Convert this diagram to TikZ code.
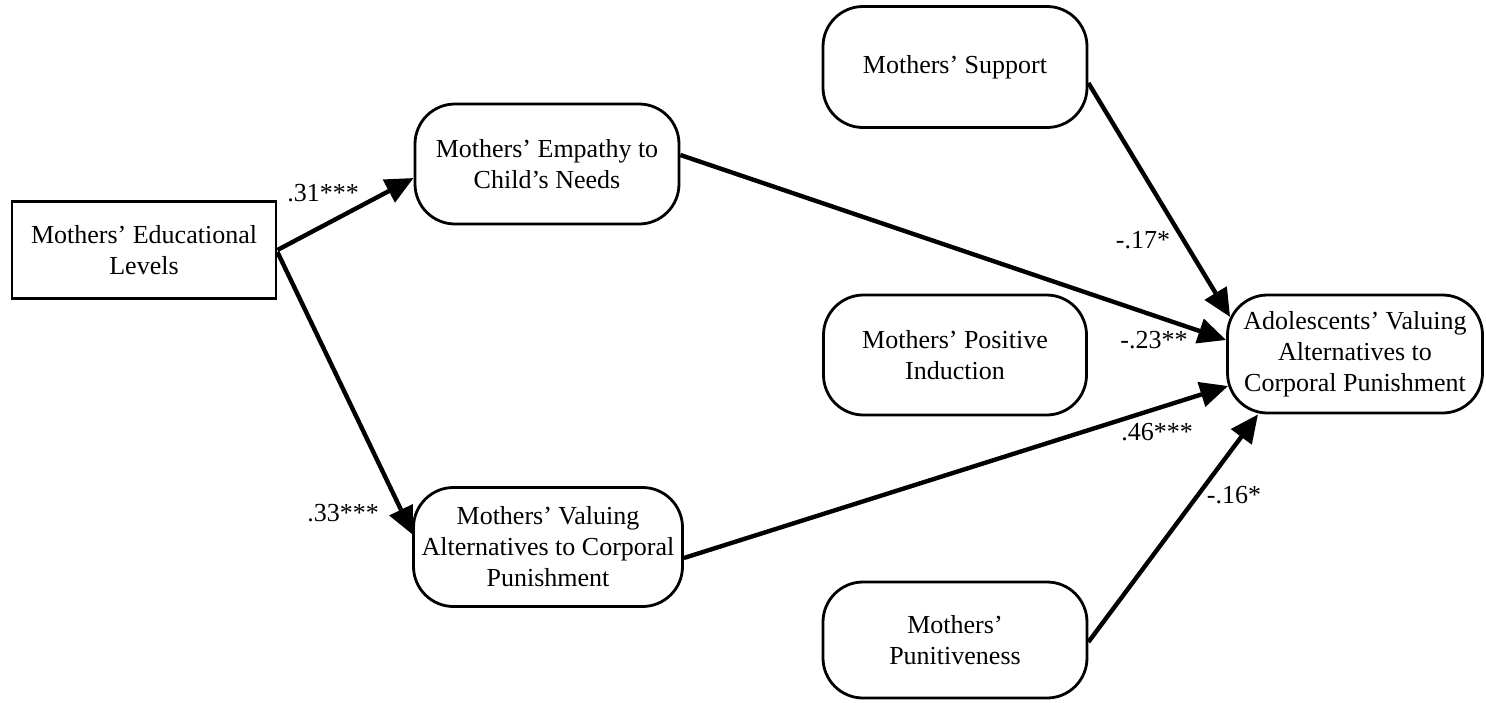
\documentclass[tikz,border=0pt]{standalone}
\usepackage{fontspec}
\setmainfont{Liberation Serif}
\usetikzlibrary{arrows.meta}
\begin{document}
\begin{tikzpicture}[x=1pt,y=-1pt,
  txt/.style={font=\fontsize{26}{31}\selectfont},
  box/.style={txt, draw, line width=2.8pt, rounded corners=40pt, minimum width=264pt, minimum height=120pt, align=center, inner sep=0pt},
  sqbox/.style={box, sharp corners, minimum height=97pt},
  arr/.style={line width=4.4pt, -{Triangle[length=28pt,width=25pt]}},
  lab/.style={txt, inner sep=0pt}]
\useasboundingbox (0,0) rectangle (1486,702);
% nodes
\node[sqbox] (edu) at (144,250) {Mothers' Educational\\Levels};
\node[box] (emp) at (547,164) {Mothers' Empathy to\\Child's Needs};
\node[box, minimum width=269pt, minimum height=119pt] (val) at (548,547) {Mothers' Valuing\\Alternatives to Corporal\\Punishment};
\node[box, minimum height=121pt] (sup) at (955,67) {Mothers' Support};
\node[box, minimum width=263pt] (pos) at (955,355) {Mothers' Positive\\Induction};
\node[box, minimum height=116pt] (pun) at (955,640) {Mothers'\\Punitiveness};
\node[box, minimum width=255pt, minimum height=118pt] (ado) at (1355,354) {Adolescents' Valuing\\Alternatives to\\Corporal Punishment};
% connectors
\draw[arr] (edu.east) -- ([yshift=-14pt]emp.west);
\draw[arr] ([yshift=-2pt]edu.east) -- ([xshift=1pt,yshift=12pt]val.west);
\draw[arr] ([yshift=9pt]emp.east) -- ([yshift=14pt]ado.west);
\draw[arr] ([yshift=-11pt]val.east) -- ([xshift=2pt,yshift=-32pt]ado.west);
\draw[arr] ([yshift=-16pt]sup.east) -- ([xshift=4pt,yshift=37pt]ado.west);
\draw[arr] ([yshift=-2pt]pun.east) -- ([xshift=-97pt]ado.south);
% labels
\node[lab] (l31) at (323,193) {.31***};
\node[lab] (l33) at (343,513) {.33***};
\node[lab] (l17) at (1143,240) {-.17*};
\node[lab] (l23) at (1154,340) {-.23**};
\node[lab] (l46) at (1157,432) {.46***};
\node[lab] (l16) at (1234,495) {-.16*};
\end{tikzpicture}
\end{document}
